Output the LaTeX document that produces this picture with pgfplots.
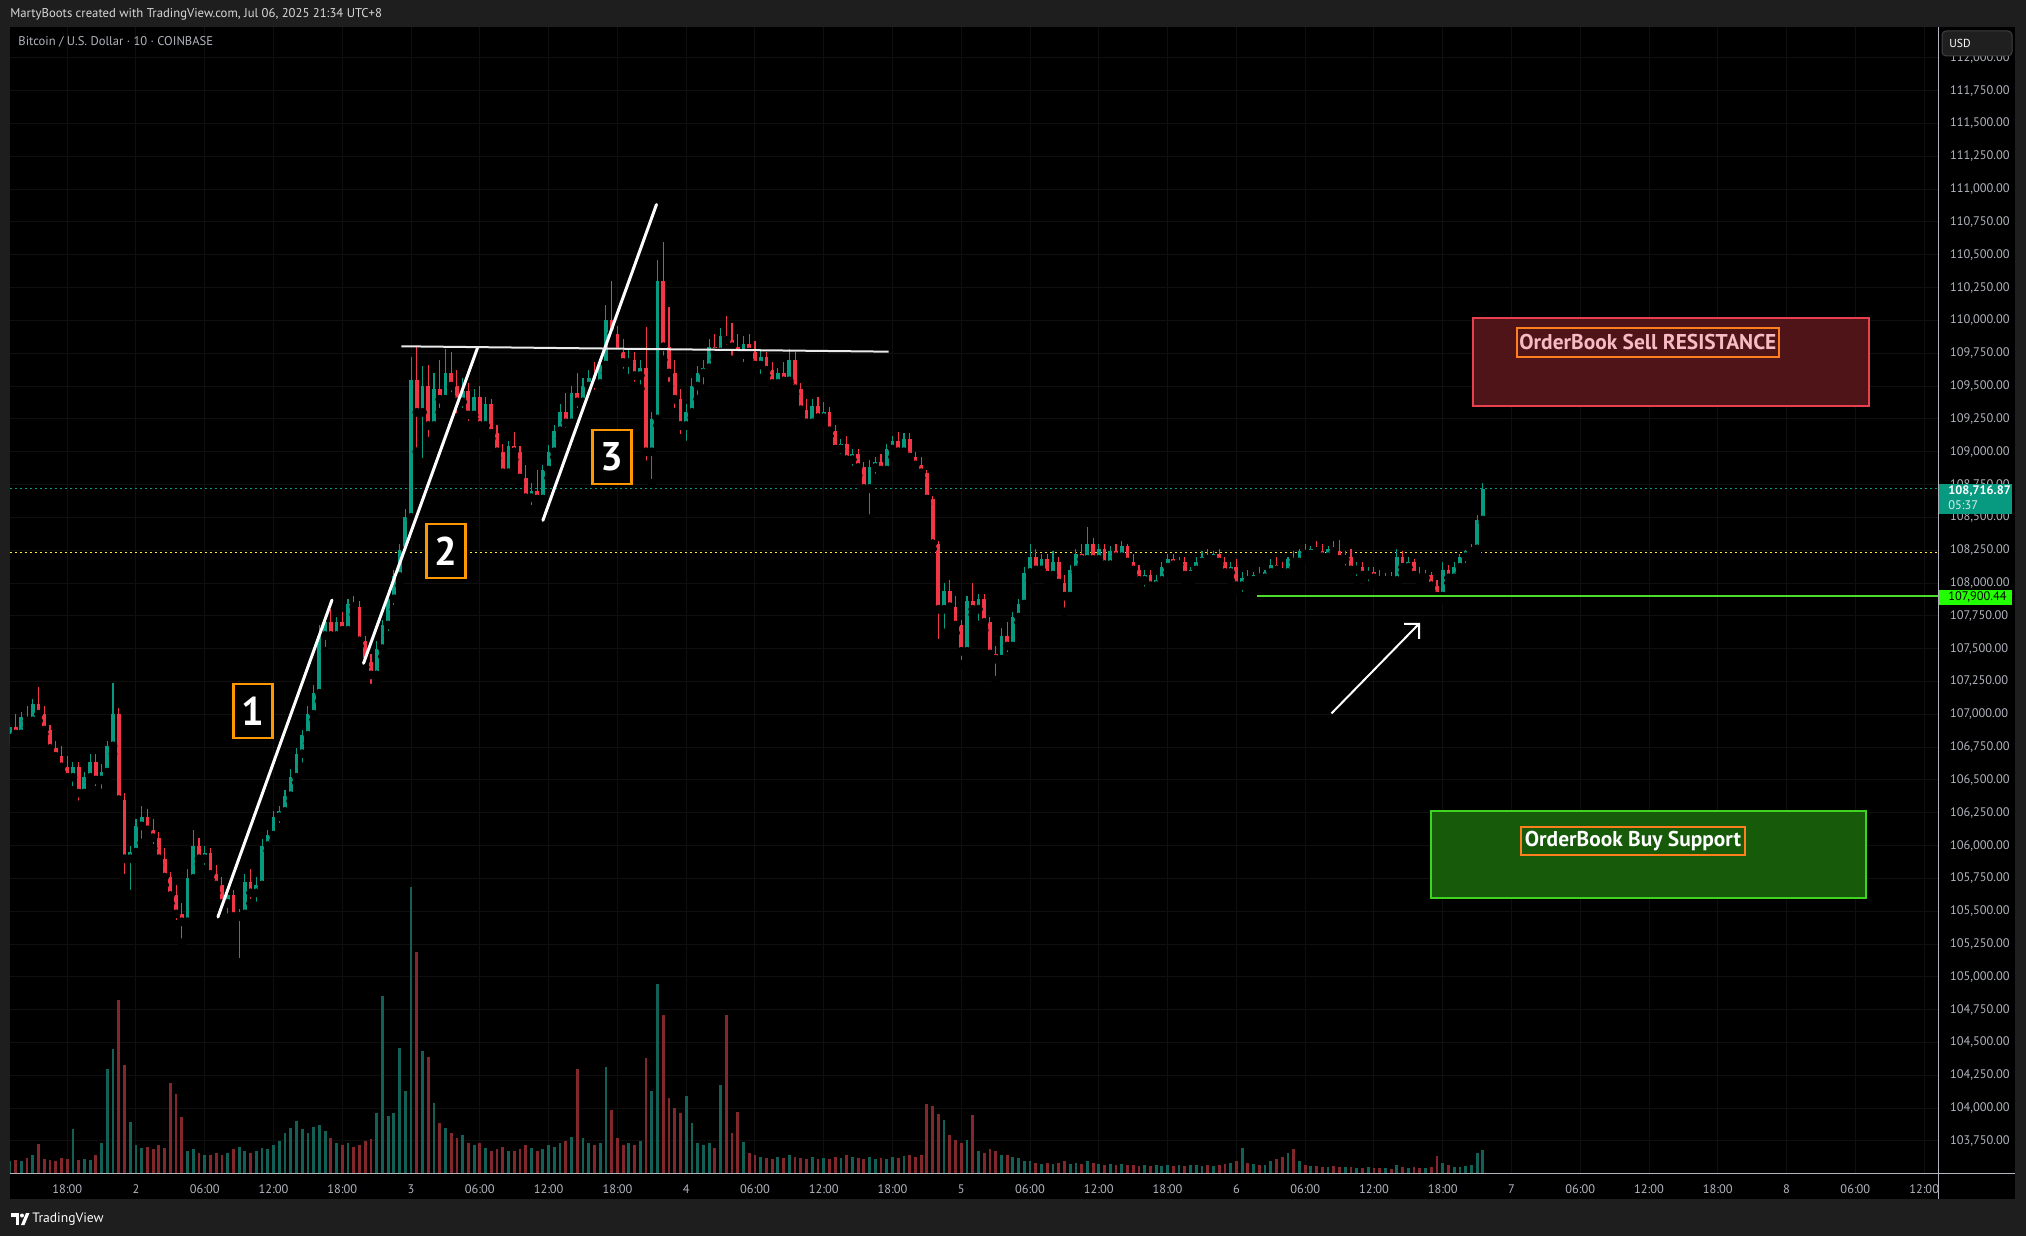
\documentclass[border=0pt]{standalone}
\usepackage{pgfplots}
\pgfplotsset{compat=1.18}
\usepackage{pgfplotstable}
\usepackage{fontspec}
\setmainfont{PT Sans}
\usetikzlibrary{arrows.meta}

\definecolor{outer}{HTML}{1E1E1E}
\definecolor{gridc}{HTML}{0F0F0F}
\definecolor{upc}{HTML}{089981}
\definecolor{dnc}{HTML}{F23645}
\definecolor{volup}{HTML}{136056}
\definecolor{voldn}{HTML}{82282C}
\definecolor{tlab}{HTML}{B2B5BE}
\definecolor{hdr}{HTML}{D8D8D8}
\definecolor{boxor}{HTML}{FF9800}
\definecolor{lblor}{HTML}{FF7F1F}
\definecolor{resfill}{HTML}{4F1418}
\definecolor{resline}{HTML}{E8404E}
\definecolor{restext}{HTML}{F8BBC4}
\definecolor{supfill}{HTML}{175A0A}
\definecolor{supline}{HTML}{3FD422}
\definecolor{lvlgreen}{HTML}{4CDC2C}
\definecolor{lblgreen}{HTML}{22FF00}
\definecolor{yel}{HTML}{FFEB3B}

\tikzset{numbox/.style={draw=boxor, line width=1.3pt, fill=black, minimum width=19.7pt,
    minimum height=27pt, inner sep=0pt, text=white, font=\bfseries\fontsize{20}{20}\selectfont}}
\pgfplotsset{pane/.style={at={(5pt,-586.5pt)}, anchor=south west,
    scale only axis, width=964pt, height=573pt, xmin=-10.99, xmax=157.21}}

% 30 minute bars, t = hours after 2 Jul 00:00 (UTC+8), v = volume (arbitrary units)
\pgfplotstableread{
t o h l c v
-11.0 106850 106950 106760 106900 12
-10.5 106900 107000 106800 106850 13
-10.0 106850 107020 106830 106980 12
-9.5 106980 107060 106900 106950 15
-9.0 106950 107120 106900 107080 18
-8.5 107080 107210 106950 107000 29
-8.0 107000 107060 106850 106880 14
-7.5 106880 106920 106700 106740 13
-7.0 106740 106800 106620 106680 12
-6.5 106680 106760 106560 106600 15
-6.0 106600 106680 106480 106520 14
-5.5 106520 106640 106420 106600 44
-5.0 106600 106640 106310 106400 13
-4.5 106400 106560 106340 106520 14
-4.0 106520 106700 106480 106640 13
-3.5 106640 106700 106420 106500 18
-3.0 106500 106620 106400 106560 30
-2.5 106560 106800 106520 106760 104
-2.0 106760 107240 106700 107000 124
-1.5 107000 107050 106300 106350 173
-1.0 106350 106400 105750 105900 108
-0.5 105900 106000 105630 105950 51
0.0 105950 106200 105900 106150 28
0.5 106150 106300 106020 106220 25
1.0 106220 106280 106080 106120 26
1.5 106120 106200 105980 106060 24
2.0 106060 106100 105850 105900 28
2.5 105900 105980 105700 105760 25
3.0 105760 105800 105560 105620 90
3.5 105620 105700 105400 105480 79
4.0 105480 105560 105260 105420 56
4.5 105420 105820 105380 105750 22
5.0 105750 106120 105700 106000 24
5.5 106000 106060 105860 105900 20
6.0 105900 106000 105820 105940 18
6.5 105940 105980 105740 105780 18
7.0 105780 105850 105640 105700 20
7.5 105700 105760 105480 105560 18
8.0 105560 105680 105450 105620 20
8.5 105620 105660 105400 105460 24
9.0 105460 105520 105110 105480 26
9.5 105480 105780 105440 105720 22
10.0 105720 105820 105560 105640 20
10.5 105640 105760 105540 105700 22
11.0 105700 106050 105680 106000 25
11.5 106000 106120 105960 106080 24
12.0 106080 106260 106040 106220 28
12.5 106220 106300 106140 106260 32
13.0 106260 106420 106200 106380 40
13.5 106380 106580 106340 106520 45
14.0 106520 106740 106480 106700 52
14.5 106700 106880 106600 106840 44
15.0 106840 107060 106780 107000 40
15.5 107000 107220 106960 107160 46
16.0 107160 107680 107100 107600 48
16.5 107600 107760 107480 107700 42
17.0 107700 107800 107540 107600 35
17.5 107600 107740 107560 107700 30
18.0 107700 107780 107580 107640 28
18.5 107640 107880 107620 107840 30
19.0 107840 107900 107760 107820 26
19.5 107820 107860 107520 107560 28
20.0 107560 107600 107360 107400 32
20.5 107400 107460 107200 107300 34
21.0 107300 107560 107260 107500 60
21.5 107500 107720 107440 107680 177
22.0 107680 107940 107600 107880 57
22.5 107880 108100 107800 108050 60
23.0 108050 108300 107980 108250 125
23.5 108250 108560 108200 108500 82
24.0 108500 109720 108480 109550 286
24.5 109550 109800 109000 109300 221
25.0 109300 109650 108920 109500 122
25.5 109500 109660 109080 109200 116
26.0 109200 109600 109150 109480 70
26.5 109480 109700 109300 109400 50
27.0 109400 109780 109350 109600 45
27.5 109600 109760 109420 109500 40
28.0 109500 109620 109260 109380 35
28.5 109380 109560 109300 109460 38
29.0 109460 109520 109200 109280 30
29.5 109280 109480 109250 109420 28
30.0 109420 109500 109140 109200 30
30.5 109200 109420 109160 109360 25
31.0 109360 109400 109100 109140 22
31.5 109140 109200 108950 109000 24
32.0 109000 109060 108780 108840 26
32.5 108840 109080 108800 109040 22
33.0 109040 109150 108940 109000 22
33.5 109000 109040 108760 108800 24
34.0 108800 108900 108600 108650 28
34.5 108650 108760 108560 108700 25
35.0 108700 108860 108600 108640 22
35.5 108640 108900 108600 108860 24
36.0 108860 109050 108800 109000 28
36.5 109000 109200 108960 109160 26
37.0 109160 109360 109100 109300 30
37.5 109300 109450 109150 109220 32
38.0 109220 109500 109200 109450 36
38.5 109450 109600 109300 109380 104
39.0 109380 109560 109340 109500 35
39.5 109500 109620 109400 109560 30
40.0 109560 109680 109440 109520 28
40.5 109520 109700 109480 109660 30
41.0 109660 110120 109600 110000 106
41.5 110000 110300 109860 109900 63
42.0 109900 109960 109700 109760 35
42.5 109760 109860 109600 109680 28
43.0 109680 109780 109560 109700 30
43.5 109700 109760 109500 109580 28
44.0 109580 109700 109480 109640 32
44.5 109640 109950 108900 109000 115
45.0 109000 109300 108760 109250 82
45.5 109250 110460 109200 110300 189
46.0 110300 110600 109700 109800 158
46.5 109800 110100 109500 109600 75
47.0 109600 109700 109300 109400 65
47.5 109400 109480 109100 109200 60
48.0 109200 109360 109050 109300 77
48.5 109300 109560 109260 109500 50
49.0 109500 109650 109400 109600 30
49.5 109600 109700 109480 109640 28
50.0 109640 109860 109600 109800 30
50.5 109800 109900 109700 109760 25
51.0 109760 109940 109720 109880 88
51.5 109880 110030 109780 109850 158
52.0 109850 109980 109700 109800 40
52.5 109800 109900 109680 109740 61
53.0 109740 109880 109650 109820 31
53.5 109820 109900 109700 109760 20
54.0 109760 109840 109600 109660 18
54.5 109660 109780 109560 109720 16
55.0 109720 109760 109580 109620 15
55.5 109620 109680 109450 109520 14
56.0 109520 109640 109460 109600 16
56.5 109600 109680 109480 109540 15
57.0 109540 109780 109520 109700 18
57.5 109700 109760 109440 109480 16
58.0 109480 109520 109280 109320 15
58.5 109320 109400 109160 109220 14
59.0 109220 109400 109180 109350 16
59.5 109350 109420 109200 109260 14
60.0 109260 109380 109220 109300 15
60.5 109300 109340 109120 109160 14
61.0 109160 109200 108980 109020 16
61.5 109020 109100 108950 109060 15
62.0 109060 109120 108900 108940 18
62.5 108940 109020 108860 108980 16
63.0 108980 109020 108820 108880 15
63.5 108880 108920 108680 108720 14
64.0 108720 108940 108490 108880 16
64.5 108880 108960 108800 108920 14
65.0 108920 108980 108820 108860 15
65.5 108860 109060 108840 109020 14
66.0 109020 109120 108960 109080 16
66.5 109080 109150 108980 109000 15
67.0 109000 109140 108960 109100 17
67.5 109100 109140 108940 108960 18
68.0 108960 109000 108860 108900 16
68.5 108900 108960 108800 108840 18
69.0 108840 108860 108600 108640 69
69.5 108640 108660 108260 108300 67
70.0 108300 108320 107540 107800 59
70.5 107800 108000 107620 107940 53
71.0 107940 108020 107760 107820 38
71.5 107820 107900 107620 107680 33
72.0 107680 107720 107380 107480 30
72.5 107480 107900 107440 107860 33
73.0 107860 108000 107760 107800 58
73.5 107800 107920 107680 107880 22
74.0 107880 107920 107640 107700 20
74.5 107700 107740 107400 107460 24
75.0 107460 107520 107260 107420 22
75.5 107420 107660 107380 107600 18
76.0 107600 107700 107440 107520 18
76.5 107520 107780 107500 107740 16
77.0 107740 107880 107700 107840 15
77.5 107840 108120 107800 108080 12
78.0 108080 108300 108020 108200 12
78.5 108200 108260 108060 108100 10
79.0 108100 108220 108040 108180 9
79.5 108180 108220 108020 108060 10
80.0 108060 108240 108020 108160 9
80.5 108160 108200 107960 108000 10
81.0 108000 108060 107780 107900 12
81.5 107900 108140 107880 108100 9
82.0 108100 108260 108080 108220 10
82.5 108220 108300 108140 108180 9
83.0 108180 108430 108160 108300 12
83.5 108300 108340 108140 108180 10
84.0 108180 108300 108120 108260 9
84.5 108260 108300 108100 108140 8
85.0 108140 108280 108120 108240 9
85.5 108240 108300 108160 108200 8
86.0 108200 108320 108160 108280 9
86.5 108280 108300 108140 108160 8
87.0 108160 108220 108060 108100 8
87.5 108100 108140 107980 108020 7
88.0 108020 108100 107940 108060 8
88.5 108060 108100 107940 107980 7
89.0 107980 108060 107920 108020 8
89.5 108020 108160 108000 108120 7
90.0 108120 108220 108080 108180 8
90.5 108180 108220 108100 108140 7
91.0 108140 108200 108080 108160 8
91.5 108160 108200 108020 108060 7
92.0 108060 108120 108000 108100 8
92.5 108100 108200 108060 108160 8
93.0 108160 108240 108120 108200 7
93.5 108200 108260 108140 108180 8
94.0 108180 108240 108120 108220 7
94.5 108220 108260 108140 108160 8
95.0 108160 108200 108040 108080 9
95.5 108080 108160 108020 108120 10
96.0 108120 108180 107940 107980 12
96.5 107980 108080 107900 108040 25
97.0 108040 108100 107980 108020 10
97.5 108020 108080 107960 108060 9
98.0 108060 108120 108000 108040 8
98.5 108040 108100 108000 108080 8
99.0 108080 108180 108040 108140 12
99.5 108140 108200 108060 108100 14
100.0 108100 108160 108040 108080 16
100.5 108080 108200 108060 108180 20
101.0 108180 108240 108120 108160 24
101.5 108160 108260 108140 108240 12
102.0 108240 108300 108180 108220 8
102.5 108220 108280 108160 108260 7
103.0 108260 108320 108200 108240 7
103.5 108240 108300 108160 108200 6
104.0 108200 108280 108160 108260 6
104.5 108260 108320 108200 108240 7
105.0 108240 108330 108160 108180 6
105.5 108180 108240 108100 108200 6
106.0 108200 108260 108080 108100 6
106.5 108100 108160 108020 108120 5
107.0 108120 108160 108040 108060 5
107.5 108060 108120 107980 108080 6
108.0 108080 108120 108000 108040 5
108.5 108040 108100 107980 108020 5
109.0 108020 108080 107980 108040 5
109.5 108040 108080 107990 108020 4
110.0 108020 108260 108000 108200 8
110.5 108200 108240 108080 108120 6
111.0 108120 108200 108080 108160 5
111.5 108160 108180 108040 108060 6
112.0 108060 108120 108000 108040 5
112.5 108040 108100 107980 108060 5
113.0 108060 108080 107940 107980 6
113.5 107980 108020 107840 107900 17
114.0 107900 108160 107880 108100 10
114.5 108100 108140 108000 108040 8
115.0 108040 108160 108000 108120 6
115.5 108120 108220 108080 108200 6
116.0 108200 108250 108120 108240 7
116.5 108240 108300 108180 108260 8
117.0 108260 108520 108240 108480 20
117.5 108480 108760 108460 108716.87 23
}\candles

\begin{document}
\begin{tikzpicture}[x=0.5pt, y=-0.5pt]
% picture in screen pixels (2026 x 1236), y downwards
\useasboundingbox (0,0) rectangle (2026,1236);
\fill[outer] (0,0) rectangle (2026,1236);
\fill[black] (10,27) rectangle (2015,1199);
\node[anchor=west, inner sep=0pt, text=hdr, font=\fontsize{6.35}{7}\selectfont]
  at (10,14) {MartyBoots created with TradingView.com, Jul 06, 2025 21:34 UTC+8};

% price panel: grid, scales and candles
\begin{axis}[
  pane, ymin=103506, ymax=112235,
  axis line style={draw=none}, major tick length=0pt,
  grid=major, major grid style={draw=gridc, line width=0.5pt},
  xtick={-6,0,...,156},
  xticklabels={18:00,2,06:00,12:00,18:00,3,06:00,12:00,18:00,4,06:00,12:00,18:00,5,06:00,12:00,18:00,6,06:00,12:00,18:00,7,06:00,12:00,18:00,8,06:00,12:00},
  ytick={103750,104000,...,112000},
  yticklabel pos=right, scaled y ticks=false,
  /pgf/number format/assume math mode=true,
  ticklabel style={font=\fontsize{6.2}{7}\selectfont, text=tlab},
  yticklabel style={anchor=west, xshift=2.5pt,
    /pgf/number format/fixed, /pgf/number format/fixed zerofill,
    /pgf/number format/precision=2, /pgf/number format/1000 sep={,}},
  xticklabel style={yshift=-2.2pt},
]
\addplot[upc, line width=0.6pt, dash pattern=on 1pt off 1.5pt] coordinates {(-10.99,108716.87) (157.21,108716.87)};
\addplot[yel, line width=0.6pt, dash pattern=on 1pt off 1.5pt] coordinates {(-10.99,108235) (157.21,108235)};

% wicks
\addplot[only marks, mark=none, restrict expr to domain={\thisrow{c}-\thisrow{o}}{0:1000000},
  error bars/.cd, y dir=plus, y explicit, error mark=none,
  error bar style={draw=upc, line width=0.55pt}]
  table[x=t, y=l, y error expr=\thisrow{h}-\thisrow{l}] {\candles};
\addplot[only marks, mark=none, restrict expr to domain={\thisrow{c}-\thisrow{o}}{-1000000:-0.01},
  error bars/.cd, y dir=plus, y explicit, error mark=none,
  error bar style={draw=dnc, line width=0.55pt}]
  table[x=t, y=l, y error expr=\thisrow{h}-\thisrow{l}] {\candles};
% bodies
\addplot[only marks, mark=none, restrict expr to domain={\thisrow{c}-\thisrow{o}}{0:1000000},
  error bars/.cd, y dir=plus, y explicit, error mark=none,
  error bar style={draw=upc, line width=1.9pt}]
  table[x=t, y=o, y error expr={max(\thisrow{c}-\thisrow{o},12)}] {\candles};
\addplot[only marks, mark=none, restrict expr to domain={\thisrow{c}-\thisrow{o}}{-1000000:-0.01},
  error bars/.cd, y dir=plus, y explicit, error mark=none,
  error bar style={draw=dnc, line width=1.9pt}]
  table[x=t, y=c, y error expr={max(\thisrow{o}-\thisrow{c},12)}] {\candles};
\end{axis}

% volume pane
\begin{axis}[pane, ymin=0, ymax=1146, hide axis]
\addplot[ycomb, mark=none, draw=volup, line width=1.4pt,
  restrict expr to domain={\thisrow{c}-\thisrow{o}}{0:1000000}]
  table[x=t, y=v] {\candles};
\addplot[ycomb, mark=none, draw=voldn, line width=1.4pt,
  restrict expr to domain={\thisrow{c}-\thisrow{o}}{-1000000:-0.01}]
  table[x=t, y=v] {\candles};
\end{axis}

% drawings on top of the candles
\begin{axis}[pane, ymin=103506, ymax=112235, hide axis]
\addplot[lvlgreen, line width=0.6pt] coordinates {(97.8,107900.44) (157.21,107900.44)};
\draw[white, line width=1.5pt, line cap=round] (axis cs:7.15,105456) -- (axis cs:17.1,107870);
\draw[white, line width=1.5pt, line cap=round] (axis cs:19.85,107388) -- (axis cs:29.79,109789);
\draw[white, line width=1.5pt, line cap=round] (axis cs:35.5,108477) -- (axis cs:45.41,110883);
\draw[white!92!black, line width=1pt] (axis cs:23.16,109803) -- (axis cs:65.67,109762);
\node[numbox] at (axis cs:10.21,107025) {1};
\node[numbox] at (axis cs:27.04,108243) {2};
\node[numbox] at (axis cs:41.53,108959) {3};
\draw[resline, fill=resfill, line width=1pt] (axis cs:116.6,110020) rectangle (axis cs:151.2,109348);
\node[draw=lblor, line width=1pt, minimum width=131pt, minimum height=14.5pt, inner sep=1pt,
  text=restext, font=\bfseries\fontsize{10.7}{10.7}\selectfont]
  at (axis cs:131.9,109832) {OrderBook Sell RESISTANCE};
\draw[supline, fill=supfill, line width=1pt] (axis cs:113.0,106260) rectangle (axis cs:150.9,105600);
\node[draw=lblor, line width=1pt, minimum width=112pt, minimum height=14pt, inner sep=1pt,
  text=white, font=\bfseries\fontsize{10.7}{10.7}\selectfont]
  at (axis cs:130.6,106035) {OrderBook Buy Support};
\draw[white, line width=1pt, -{Straight Barb[length=5.3pt, width=10.6pt]}]
  (axis cs:104.3,107007) -- (axis cs:112.02,107697);
\end{axis}

\node[anchor=west, inner sep=0pt, text=tlab, font=\fontsize{6.3}{7}\selectfont]
  at (18,42) {Bitcoin / U.S. Dollar · 10 · COINBASE};

% scale lines
\draw[tlab, line width=0.5pt] (1938,27) -- (1938,1199);
\draw[tlab, line width=0.5pt] (10,1173) -- (2015,1173);

% price scale labels
\draw[draw=black!75, fill=black!88, rounded corners=2pt, line width=0.5pt] (1942,31) rectangle (2012,56);
\node[anchor=west, inner sep=0pt, text=white, font=\fontsize{5.8}{7}\selectfont] at (1949,43.5) {USD};
\fill[upc] (1939,484) rectangle (2012,514);
\node[anchor=west, inner sep=0pt, text=white, font=\bfseries\fontsize{6.2}{7}\selectfont] at (1948,491) {108,716.87};
\node[anchor=west, inner sep=0pt, text=white!85!upc, font=\fontsize{6.2}{7}\selectfont] at (1948,505) {05:37};
\fill[lblgreen] (1939,590) rectangle (2012,605);
\node[anchor=west, inner sep=0pt, text=black, font=\fontsize{6.2}{7}\selectfont] at (1948,597.5) {107,900.44};

% TradingView mark
\fill[white] (11,1213) rectangle (19,1216.5);
\fill[white] (15.5,1213) rectangle (19,1225);
\fill[white] (22,1215.5) circle[radius=1pt];
\fill[white] (21,1225) -- (26,1213) -- (29.5,1213) -- (24.5,1225) -- cycle;
\node[anchor=west, inner sep=0pt, text=white, font=\fontsize{6.8}{7}\selectfont] at (32,1219) {TradingView};
\end{tikzpicture}
\end{document}
